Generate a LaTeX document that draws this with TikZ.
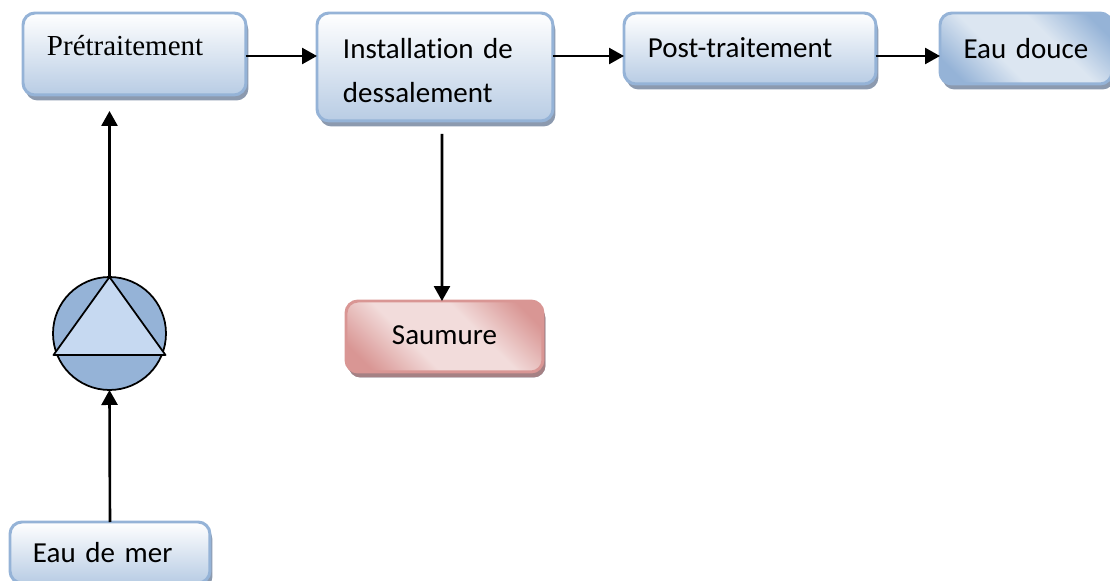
\documentclass[tikz,border=0pt]{standalone}
\usepackage{fontspec}
\setmainfont[RawFeature=-liga]{Carlito}
\newfontfamily\serifbox{Liberation Serif}
\usetikzlibrary{arrows.meta,shadows}

\definecolor{bordbleu}{HTML}{95B3D7}
\definecolor{fondbleu}{HTML}{B8CCE4}
\definecolor{clairbleu}{HTML}{DCE6F1}
\definecolor{ombrebleu}{HTML}{7F8FA6}
\definecolor{triangle}{HTML}{C6D9F1}
\definecolor{bordrose}{HTML}{D99694}
\definecolor{clairrose}{HTML}{F2DCDB}
\definecolor{ombrerose}{HTML}{A87F80}

\newcommand{\policeboite}{\fontsize{16.5}{25}\selectfont\setlength{\spaceskip}{0.2em}}

\pgfdeclareverticalshading{diagbleu}{100bp}{color(0bp)=(bordbleu); color(22bp)=(bordbleu); color(40bp)=(clairbleu); color(60bp)=(clairbleu); color(78bp)=(bordbleu); color(100bp)=(bordbleu)}
\pgfdeclareverticalshading{diagrose}{100bp}{color(0bp)=(bordrose); color(22bp)=(bordrose); color(40bp)=(clairrose); color(60bp)=(clairrose); color(78bp)=(bordrose); color(100bp)=(bordrose)}

\tikzset{
    boite/.style={anchor=north west, rounded corners=0.24cm, line width=1.7pt, draw=bordbleu,
        inner ysep=0pt, outer sep=0pt, align=left, font=\policeboite,
        drop shadow={shadow xshift=0.05cm, shadow yshift=-0.11cm, fill=ombrebleu, opacity=0.9}},
    bleue/.style={boite, top color=white, bottom color=fondbleu},
    fleche/.style={-{Triangle[length=0.3cm,width=0.32cm]}, line width=1.5pt}
}

\begin{document}
\begin{tikzpicture}[x=0.02cm, y=-0.02cm]

\useasboundingbox (0,0) rectangle (1110,581);

% Top row of boxes
\node[bleue, inner xsep=0.48cm, text width=3.5cm, text height=0.86cm, text depth=0.78cm, font=\fontsize{16.5}{25}\selectfont\serifbox] (pre) at (23,13) {Prétraitement};
\node[bleue, inner xsep=0.52cm, text width=3.68cm, text height=0.92cm, text depth=1.24cm] (inst) at (317,13) {Installation de\\dessalement};
\node[bleue, inner xsep=0.48cm, text width=4.08cm, text height=0.9cm, text depth=0.52cm] (post) at (624,13) {Post-traitement};
\node[boite, shading=diagbleu, shading angle=-45, align=center, inner xsep=0.2cm, text width=3.04cm, text height=0.92cm, text depth=0.5cm] (douce) at (940,13) {Eau douce};

% Brine
\node[boite, shading=diagrose, shading angle=-45, draw=bordrose, align=center, inner xsep=0.2cm, text width=3.54cm, text height=0.88cm, text depth=0.54cm,
    drop shadow={shadow xshift=0.05cm, shadow yshift=-0.11cm, fill=ombrerose, opacity=0.9}] (saumure) at (346,301) {Saumure};

% Sea water
\node[bleue, inner xsep=0.46cm, text width=3.08cm, text height=0.82cm, text depth=0.4cm] (mer) at (10,522) {Eau de mer};

% Pump
\node[circle, draw=black, line width=1pt, fill=bordbleu, minimum size=2.26cm, inner sep=0pt, outer sep=0pt] (pompe) at (109.5,333.5) {};
\draw[line width=1pt, fill=triangle, line join=round] (pompe.north) -- ++(-56,78) -- ++(112,0) -- cycle;

% Connectors
\draw[fleche] (pre.east |- 0,56) -- (inst.west |- 0,56);
\draw[fleche] (inst.east |- 0,56) -- (post.west |- 0,56);
\draw[fleche] (post.east |- 0,56) -- (douce.west |- 0,56);
\draw[fleche, shorten <=0.26cm] ([xshift=0.14cm]inst.south) -- ([xshift=-0.05cm]saumure.north);
\draw[fleche, shorten >=0.32cm] (pompe.north) -- (pompe.north |- pre.south);
\draw[fleche] (mer.north) -- (pompe.south);

\end{tikzpicture}
\end{document}
